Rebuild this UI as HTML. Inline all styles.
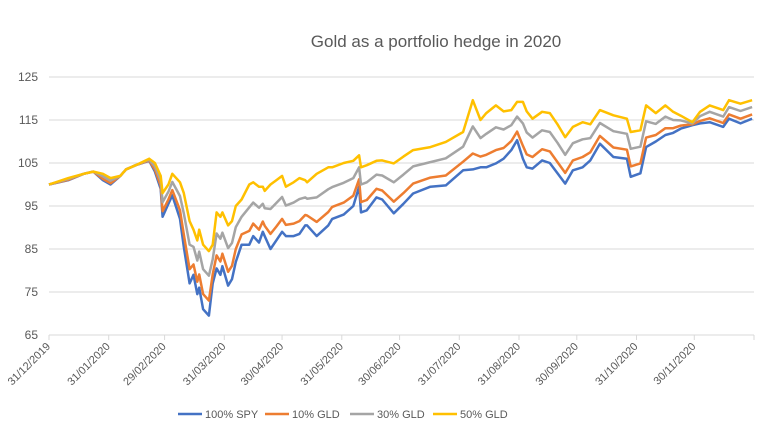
<!DOCTYPE html>
<html><head><meta charset="utf-8"><style>
body{margin:0;background:#fff;}
svg{display:block;font-family:"Liberation Sans",sans-serif;}
</style></head><body>
<svg id="chart" width="780" height="438" viewBox="0 0 780 438">
<text x="436" y="47" text-anchor="middle" font-size="17" fill="#595959">Gold as a portfolio hedge in 2020</text>
<g id="grid"></g>
<g id="yaxis"></g>
<g id="xaxis"></g>
<g id="series"></g>
<g id="legend"></g>
</svg>
<script>
const days=[0,10,18,23,28,32,37,40,45,52,55,58,59,62,64,68,70,73,75,77,78,80,83,85,87,89,90,93,95,97,100,104,106,109,111,112,115,118,121,123,127,130,133,134,139,145,147,153,158,161,162,165,170,173,179,184,189,198,206,215,220,224,227,232,236,240,243,246,248,251,256,260,264,268,272,277,281,286,293,300,302,307,310,315,320,324,328,334,338,343,350,353,359,365];
const spy=[100,101,102.5,103,101,100,102,103.5,104.5,105.5,103,99,92.5,95.5,97.5,92,85.5,77,79,74.5,76,71,69.5,77,80.5,79,81,76.5,78,82,86,86,88,86.5,89,88,85,87,89,88,88,88.5,90.5,90.5,88,90.5,92,93,95,99.5,93.5,94,97,96.5,93.3,95.5,97.9,99.5,99.8,103.3,103.5,104,104,104.9,106,108,110.3,106,104,103.7,105.6,105,102.6,100.2,103.3,104,105.6,109.5,106.4,106,101.8,102.6,108.7,110,111.5,112,113,113.8,114.2,114.5,113.4,115.3,114.2,115.3];
const gld10=[100,101.1,102.5,103,101.3,100.3,102,103.5,104.5,105.6,103.5,99.7,93.8,96.5,98.7,94,88.4,80.3,81.4,77.4,79.1,74.5,73,79.1,83.5,82.1,83.9,79.7,81.1,85,88.4,89.2,90.9,89.5,91.4,90.4,88.5,90.2,92,90.6,90.9,91.5,92.9,92.8,91.3,93.6,94.8,95.8,97.4,101.2,95.9,96.4,99,98.6,96,98,100.2,101.6,102.1,105.3,107.2,106.5,106.9,108,108.5,110.1,112.3,109,107,106.4,108.2,107.7,105.2,102.7,105.6,106.4,107.5,111.3,108.6,108.1,104.2,104.9,110.9,111.5,113.1,113.1,113.7,114,114.8,115.4,114.3,116.3,115.3,116.3];
const gld30=[100,101.3,102.5,103,101.9,100.9,102,103.5,104.5,105.8,104.2,100.9,95.9,98.3,100.6,97.3,93.3,86,85.5,82.3,84.4,80.3,78.8,82.6,88.6,87.4,88.8,85.2,86.4,90.1,92.5,94.7,95.8,94.6,95.5,94.5,94.3,95.7,97.1,95.1,95.8,96.6,97,96.7,97,98.9,99.4,100.4,101.5,104,100,100.5,102.3,102.1,100.5,102.3,104.2,105.2,106.1,108.8,113.5,110.8,111.8,113.3,112.8,113.8,115.8,114.2,112.1,110.9,112.6,112.2,109.7,106.9,109.6,110.5,110.8,114.3,112.4,111.8,108.3,108.8,114.7,114.1,115.8,115,114.9,114.2,115.9,116.9,115.8,118,117.1,118];
const gld50=[100,101.5,102.5,103,102.5,101.5,102,103.5,104.5,106,105,102,98,100,102.5,100.5,98,91.5,89.5,87,89.5,86,84.5,86,93.5,92.5,93.5,90.5,91.5,95,96.5,100,100.5,99.5,99.5,98.5,100,101,102,99.5,100.5,101.5,101,100.5,102.5,104,104,105,105.5,106.8,104,104.5,105.5,105.6,104.9,106.5,108,108.7,109.9,112.2,119.6,115,116.6,118.4,117,117.3,119.2,119.2,117,115.3,116.9,116.6,114,111,113.4,114.5,114,117.3,116.1,115.3,112.2,112.6,118.4,116.6,118.4,116.9,116,114.5,116.9,118.4,117.3,119.6,118.8,119.6];
const yTicks=[65,75,85,95,105,115,125];
const xTickDays=[0,31,60,91,121,152,182,213,244,274,305,335,366];
const xTickLabels=["31/12/2019","31/01/2020","29/02/2020","31/03/2020","30/04/2020","31/05/2020","30/06/2020","31/07/2020","31/08/2020","30/09/2020","31/10/2020","30/11/2020",""];
const seriesNames=["100% SPY","10% GLD","30% GLD","50% GLD"];

const NS="http://www.w3.org/2000/svg";
const X0=49,X1=754,Y0=335,Y1=77;
const xs=d=>X0+(d/366)*(X1-X0);
const ys=v=>Y0-(v-65)/(125-65)*(Y0-Y1);
function mk(t,a,p){const e=document.createElementNS(NS,t);for(const k in a)e.setAttribute(k,a[k]);p.appendChild(e);return e;}
const grid=document.getElementById('grid'),ya=document.getElementById('yaxis'),xa=document.getElementById('xaxis'),sg=document.getElementById('series'),lg=document.getElementById('legend');
yTicks.forEach(v=>{
  const l=mk('line',{x1:X0,x2:X1,y1:ys(v),y2:ys(v),stroke:'#d9d9d9','stroke-width':1},grid);
  
  
  const t=mk('text',{x:38,y:ys(v)+4,'text-anchor':'end','font-size':12,fill:'#595959'},ya);
  t.textContent=v;
  
  
});
xTickDays.forEach((d,i)=>{
  const x=xs(d);
  const tk=mk('line',{x1:x,x2:x,y1:Y0,y2:Y0+5,stroke:'#d9d9d9'},xa);
  
  
  if(xTickLabels[i]){
    const t=mk('text',{x:x+2,y:Y0+12,'text-anchor':'end','font-size':11,fill:'#595959',transform:`rotate(-45 ${x+2} ${Y0+12})`},xa);
    t.textContent=xTickLabels[i];
    
    
  }
});
const colors=['#4472C4','#ED7D31','#A5A5A5','#FFC000'];
[spy,gld10,gld30,gld50].forEach((arr,si)=>{
  const pts=arr.map((v,i)=>xs(days[i]).toFixed(1)+','+ys(v).toFixed(1)).join(' ');
  const p=mk('polyline',{points:pts,fill:'none',stroke:colors[si],'stroke-width':2.5,'stroke-linejoin':'round'},sg);
  
  
});
const lx=[178,265,350,433];
seriesNames.forEach((n,i)=>{
  const g=mk('g',{},lg);
  
  
  mk('line',{x1:lx[i],x2:lx[i]+24,y1:414,y2:414,stroke:colors[i],'stroke-width':2.5},g);
  const t=mk('text',{x:lx[i]+27,y:418,'font-size':11,fill:'#595959'},g);
  t.textContent=n;
});
</script>
</body></html>
